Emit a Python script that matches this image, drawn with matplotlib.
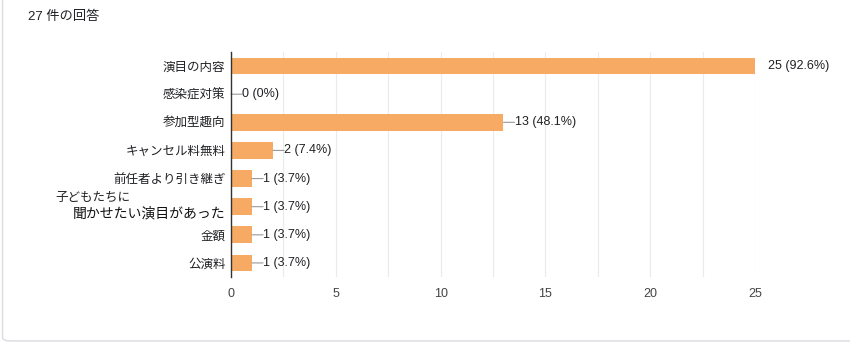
import matplotlib.pyplot as plt
from matplotlib.patches import FancyBboxPatch
from matplotlib.transforms import offset_copy

plt.rcParams['font.family'] = ['Liberation Sans', 'Noto Sans CJK JP', 'DejaVu Sans']

categories = ['演目の内容', '感染症対策', '参加型趣向', 'キャンセル料無料',
              '前任者より引き継ぎ', '子どもたちに\n聞かせたい演目があった', '金額', '公演料']
counts = [25, 0, 13, 2, 1, 1, 1, 1]
total = 27
x_ticks = [0, 5, 10, 15, 20, 25]

bar_color = '#f6aa63'

fig = plt.figure(figsize=(8.5, 3.43), dpi=100)
fig.patches.append(FancyBboxPatch((0.003, 0.006), 1.2, 1.2, boxstyle='round,pad=0,rounding_size=0.01',
                                  transform=fig.transFigure, facecolor='white',
                                  edgecolor='#dadce0', linewidth=1.0, zorder=-10))
fig.text(28 / 850, 1 - 17 / 343, f'{total} 件の回答', fontsize=9.5, color='#202124', va='center')

ax = fig.add_axes([231 / 850, 1 - 277 / 343, (755 - 231) / 850, (277 - 52) / 343])
ax.set_facecolor('none')
ypos = list(range(len(categories)))
ax.barh(ypos, counts, height=0.6, color=bar_color, zorder=3)
ax.set_ylim(len(categories) - 0.5, -0.5)
ax.set_xlim(0, 25)

ax.set_xticks(x_ticks)
ax.set_xticks([2.5 + 5 * i for i in range(5)], minor=True)
ax.tick_params(axis='x', which='both', length=0, colors='#444444', labelsize=9, pad=8)
ax.grid(axis='x', which='both', color='#ebebeb', linewidth=0.8, zorder=0)
for s in ['top', 'right', 'bottom']:
    ax.spines[s].set_visible(False)
ax.spines['left'].set_color('#333333')
ax.spines['left'].set_linewidth(1.0)
ax.spines['left'].set_zorder(4)

ax.set_yticks(ypos)
labels = [c if '\n' not in c else '' for c in categories]
ax.set_yticklabels(labels, fontsize=9, color='#202124')
ax.tick_params(axis='y', length=0, pad=4)

# two-line label drawn by hand like the original
for i, c in enumerate(categories):
    if '\n' in c:
        first, second = c.split('\n')
        tr = ax.get_yaxis_transform()
        ax.text(-0.01, i, second, transform=offset_copy(tr, fig=fig, x=0, y=-5, units='points'),
                ha='right', va='center', fontsize=10, color='#111111')
        ax.text(-0.01, i, first, transform=offset_copy(tr, fig=fig, x=-123, y=6, units='points'),
                ha='left', va='center', fontsize=9, color='#202124')

for i, v in enumerate(counts):
    pct = v / total * 100
    txt = f'{v} ({pct:.1f}%)' if v else '0 (0%)'
    if v != max(counts):
        ax.annotate('', xy=(v, i), xytext=(8, 0), textcoords='offset points',
                    arrowprops=dict(arrowstyle='-', color='#999999', lw=0.8,
                                    shrinkA=0, shrinkB=0), annotation_clip=False)
        off = 8
    else:
        off = 9.5
    ax.annotate(txt, xy=(v, i), xytext=(off, 0), textcoords='offset points',
                ha='left', va='center', fontsize=9, color='#202124', annotation_clip=False)

fig.savefig('out.png', dpi=100)
